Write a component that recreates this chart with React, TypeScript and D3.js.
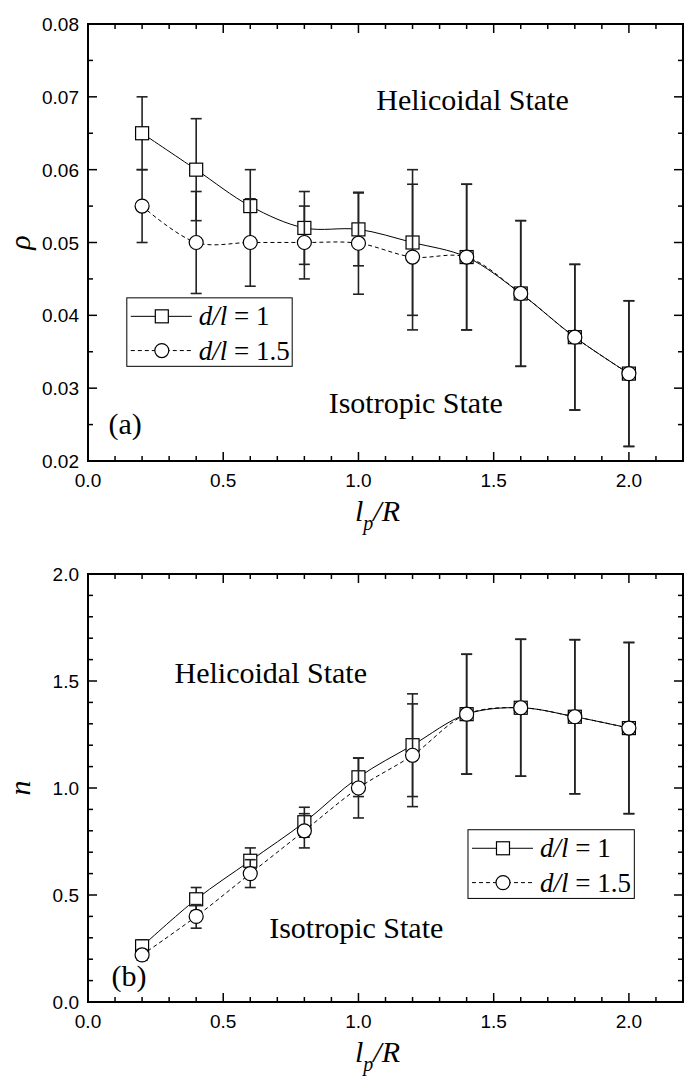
import * as d3 from "d3"

// x values (l_p / R)
const lpR = [0.2, 0.4, 0.6, 0.8, 1.0, 1.2, 1.4, 1.6, 1.8, 2.0]

// panel (a): rho
const rhoD1 = [0.065, 0.06, 0.055, 0.052, 0.0518, 0.05, 0.048, 0.043, 0.037, 0.032]
const rhoD1Err = [0.005, 0.007, 0.005, 0.005, 0.005, 0.01, 0.01, 0.01, 0.01, 0.01]
const rhoD15 = [0.055, 0.05, 0.05, 0.05, 0.0499, 0.048, 0.048, 0.043, 0.037, 0.032]
const rhoD15Err = [0.005, 0.007, 0.006, 0.005, 0.007, 0.01, 0.01, 0.01, 0.01, 0.01]

// panel (b): n
const nD1 = [0.26, 0.48, 0.66, 0.84, 1.05, 1.2, 1.345, 1.375, 1.333, 1.28]
const nD1Err = [0.03, 0.055, 0.06, 0.07, 0.09, 0.24, 0.28, 0.32, 0.36, 0.4]
const nD15 = [0.22, 0.4, 0.6, 0.8, 1.0, 1.153, 1.345, 1.375, 1.333, 1.28]
const nD15Err = [0.025, 0.055, 0.065, 0.08, 0.14, 0.24, 0.28, 0.32, 0.36, 0.4]

const xMajor = [0, 0.5, 1.0, 1.5, 2.0]
const legendLabels = ["1", "1.5"]

const W = 685
const H = 1080
const X0 = 88
const X1 = 683
const serif = "'Liberation Serif', 'Times New Roman', serif"
const sans = "'Liberation Sans', Arial, sans-serif"

const x = d3.scaleLinear().domain([0, 2.2]).range([X0, X1])

function Panel({ top, bottom, yDomain, yStep, yMinorStep, yFmt, yLabel, s1, e1, s2, e2, helic, iso, tag, legend }) {
    const y = d3.scaleLinear().domain(yDomain).range([bottom, top])
    const yMajor = d3.range(yDomain[0], yDomain[1] + yStep / 2, yStep)
    const yMinor = d3.range(yDomain[0], yDomain[1] + yMinorStep / 2, yMinorStep)
    const xMinor = d3.range(0, 2.2 + 0.05, 0.1)
    const fmt = d3.format(yFmt)

    const line = d3
        .line<number>()
        .x((_, i) => x(lpR[i]))
        .y((d) => y(d))
        .curve(d3.curveCatmullRom.alpha(0.5))

    const errBars = (vals: number[], errs: number[], color: string) =>
        vals.map((v, i) => {
            const cx = x(lpR[i])
            const hi = y(v + errs[i])
            const lo = y(v - errs[i])
            return (
                <g key={i} stroke={color} strokeWidth={1.6}>
                    <line x1={cx} x2={cx} y1={hi} y2={lo} />
                    <line x1={cx - 5.5} x2={cx + 5.5} y1={hi} y2={hi} />
                    <line x1={cx - 5.5} x2={cx + 5.5} y1={lo} y2={lo} />
                </g>
            )
        })

    const lx = x(legend.x)
    const ly = y(legend.y)
    const lw = x(legend.x2) - lx
    const lh = y(legend.y2) - ly
    const rowY = [ly + lh * 0.27, ly + lh * 0.77]

    return (
        <g>
            {/* ticks, inward on all sides */}
            {xMinor.map((t, i) => {
                const major = i % 5 === 0
                const len = major ? 9 : 5
                return (
                    <g key={"xt" + i} stroke="#000" strokeWidth={1.5}>
                        <line x1={x(t)} x2={x(t)} y1={bottom} y2={bottom - len} />
                        <line x1={x(t)} x2={x(t)} y1={top} y2={top + len} />
                    </g>
                )
            })}
            {yMinor.map((t, i) => {
                const major = yMajor.some((m) => Math.abs(m - t) < 1e-9)
                const len = major ? 9 : 5
                return (
                    <g key={"yt" + i} stroke="#000" strokeWidth={1.5}>
                        <line x1={X0} x2={X0 + len} y1={y(t)} y2={y(t)} />
                        <line x1={X1} x2={X1 - len} y1={y(t)} y2={y(t)} />
                    </g>
                )
            })}

            {/* tick labels */}
            {xMajor.map((t) => (
                <text key={"xl" + t} x={x(t)} y={bottom + 26} textAnchor="middle" fontFamily={sans} fontSize={19}>
                    {d3.format(".1f")(t)}
                </text>
            ))}
            {yMajor.map((t) => (
                <text key={"yl" + t} x={X0 - 9} y={y(t) + 7} textAnchor="end" fontFamily={sans} fontSize={19}>
                    {fmt(t)}
                </text>
            ))}

            {/* axis titles */}
            <text
                transform={`translate(30,${(top + bottom) / 2}) rotate(-90)`}
                textAnchor="middle"
                fontFamily={serif}
                fontStyle="italic"
                fontSize={30}
            >
                {yLabel}
            </text>
            <text x={(X0 + X1) / 2 - 8} y={bottom + 60} textAnchor="middle" fontFamily={serif} fontStyle="italic" fontSize={30}>
                l
                <tspan fontSize={20} dy={9}>p</tspan>
                <tspan dy={-9}>/R</tspan>
            </text>

            {/* annotations */}
            <text x={x(helic[0])} y={y(helic[1])} fontFamily={serif} fontSize={30}>Helicoidal State</text>
            <text x={x(iso[0])} y={y(iso[1])} fontFamily={serif} fontSize={30}>Isotropic State</text>
            <text x={x(tag[0])} y={y(tag[1])} fontFamily={serif} fontSize={30}>{tag[2]}</text>

            {/* series d/l = 1 */}
            <path d={line(s1) ?? ""} fill="none" stroke="#000" strokeWidth={1} />
            {errBars(s1, e1, "#222")}
            {s1.map((v, i) => (
                <rect key={"sq" + i} x={x(lpR[i]) - 6.5} y={y(v) - 6.5} width={13} height={13} fill="#fff" stroke="#000" strokeWidth={1.2} />
            ))}

            {/* series d/l = 1.5 */}
            <path d={line(s2) ?? ""} fill="none" stroke="#000" strokeWidth={1} strokeDasharray="4,3" />
            {errBars(s2, e2, "#222")}
            {s2.map((v, i) => (
                <circle key={"ci" + i} cx={x(lpR[i])} cy={y(v)} r={7} fill="#fff" stroke="#000" strokeWidth={1.2} />
            ))}

            {/* legend */}
            <rect x={lx} y={ly} width={lw} height={lh} fill="#fff" stroke="#000" strokeWidth={1} />
            {legendLabels.map((lab, i) => {
                const yy = rowY[i]
                const sx = lx + 4
                const ex = lx + 65
                const mx = lx + 35
                return (
                    <g key={"lg" + i}>
                        <line x1={sx} x2={ex} y1={yy} y2={yy} stroke="#000" strokeWidth={1} strokeDasharray={i === 1 ? "4,3" : undefined} />
                        {i === 0 ? (
                            <rect x={mx - 6.5} y={yy - 6.5} width={13} height={13} fill="#fff" stroke="#000" strokeWidth={1.2} />
                        ) : (
                            <circle cx={mx} cy={yy} r={7} fill="#fff" stroke="#000" strokeWidth={1.2} />
                        )}
                        <text x={lx + 72} y={yy + 9} fontFamily={serif} fontSize={27}>
                            <tspan fontStyle="italic">d/l</tspan>
                            {" = " + lab}
                        </text>
                    </g>
                )
            })}

            {/* frame */}
            <rect x={X0} y={top} width={X1 - X0} height={bottom - top} fill="none" stroke="#000" strokeWidth={2} />
        </g>
    )
}

export default function App() {
    return (
        <svg width={W} height={H} viewBox={`0 0 ${W} ${H}`} style={{ position: "absolute", left: 0, top: 0, background: "#fff" }}>
            <rect width={W} height={H} fill="#fff" />
            <Panel
                top={24}
                bottom={461}
                yDomain={[0.02, 0.08]}
                yStep={0.01}
                yMinorStep={0.005}
                yFmt=".2f"
                yLabel="ρ"
                s1={rhoD1}
                e1={rhoD1Err}
                s2={rhoD15}
                e2={rhoD15Err}
                helic={[1.066, 0.0682]}
                iso={[0.89, 0.0266]}
                tag={[0.076, 0.0237, "(a)"]}
                legend={{ x: 0.1435, y: 0.0424, x2: 0.755, y2: 0.033 }}
            />
            <Panel
                top={574}
                bottom={1002}
                yDomain={[0, 2]}
                yStep={0.5}
                yMinorStep={0.1}
                yFmt=".1f"
                yLabel="n"
                s1={nD1}
                e1={nD1Err}
                s2={nD15}
                e2={nD15Err}
                helic={[0.32, 1.49]}
                iso={[0.67, 0.3]}
                tag={[0.087, 0.075, "(b)"]}
                legend={{ x: 1.405, y: 0.805, x2: 2.02, y2: 0.484 }}
            />
        </svg>
    )
}
